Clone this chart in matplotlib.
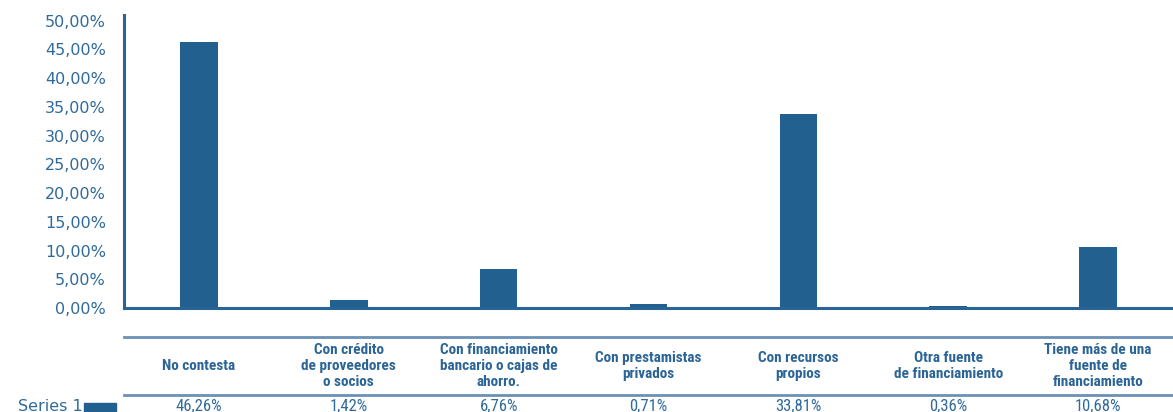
import matplotlib
matplotlib.use("Agg")
import matplotlib.pyplot as plt
import matplotlib.transforms as mtransforms
from matplotlib.patches import Rectangle
from matplotlib import font_manager

categories = [
    "No contesta",
    "Con crédito\nde proveedores\no socios",
    "Con financiamiento\nbancario o cajas de\nahorro.",
    "Con prestamistas\nprivados",
    "Con recursos\npropios",
    "Otra fuente\nde financiamiento",
    "Tiene más de una\nfuente de\nfinanciamiento",
]
values = [46.26, 1.42, 6.76, 0.71, 33.81, 0.36, 10.68]
series_name = "Series 1"
yticks = [0, 5, 10, 15, 20, 25, 30, 35, 40, 45, 50]

BAR = "#22608f"
SPINE = "#2a6496"
TEXT = "#2f6a9b"
HEAD = "#2b6496"
RULE = "#6b90b6"

# prefer a narrow face for the table text when one is installed
installed = {f.name for f in font_manager.fontManager.ttflist}
narrow = next((n for n in ("Roboto Condensed", "Liberation Sans Narrow",
                           "DejaVu Sans Condensed") if n in installed), None)
TABLE_FONT = narrow if narrow else "Lato"
HEAD_SIZE = 11 if narrow else 10.5
VAL_SIZE = 12 if narrow else 10.5


def pct(v):
    return f"{v:.2f}".replace(".", ",") + "%"


W, H = 1173, 412
fig = plt.figure(figsize=(W / 100, H / 100), dpi=100)

ax_left, ax_right = 124 / W, 1.0
ax_top, ax_bottom = 1 - 15 / H, 1 - 308 / H
ax = fig.add_axes([ax_left, ax_bottom, ax_right - ax_left, ax_top - ax_bottom])

x = list(range(len(categories)))
ax.bar(x, values, width=0.25, color=BAR, zorder=2)
ax.set_xlim(-0.5, len(categories) - 0.5)
ax.set_ylim(0, 51)

ax.set_yticks(yticks)
ax.set_yticklabels([pct(v) for v in yticks],
                   fontsize=11.5, color=TEXT, family="DejaVu Sans")
ax.tick_params(axis="y", length=0, pad=13)
ax.set_xticks([])

for side in ("top", "right"):
    ax.spines[side].set_visible(False)
for side in ("left", "bottom"):
    ax.spines[side].set_color(SPINE)
    ax.spines[side].set_linewidth(2.2)

# data table under the plot: x follows the category axis, y in figure units
trans = mtransforms.blended_transform_factory(ax.transData, fig.transFigure)
y_rule1 = 1 - 337 / H
y_rule2 = 1 - 395 / H
for yr in (y_rule1, y_rule2):
    fig.add_artist(plt.Line2D([ax_left, 1.0], [yr, yr], transform=fig.transFigure,
                              color=RULE, lw=2.0))

y_head = (y_rule1 + y_rule2) / 2
for xi, cat, val in zip(x, categories, values):
    fig.text(xi, y_head, cat, transform=trans, ha="center", va="center",
             fontsize=HEAD_SIZE, fontweight="bold", family=TABLE_FONT, color=HEAD,
             linespacing=1.22)
    fig.text(xi, 1 - 411 / H, pct(val), transform=trans,
             ha="center", va="baseline", fontsize=VAL_SIZE,
             family=TABLE_FONT, color=TEXT)

# series label with its legend key
fig.text(18 / W, 1 - 411 / H, series_name, ha="left", va="baseline",
         fontsize=11.5, family="DejaVu Sans", color=TEXT)
fig.add_artist(Rectangle((84 / W, 1 - 414 / H), 32 / W, 11 / H,
                         transform=fig.transFigure, color=BAR))

fig.savefig("out.png", dpi=100)
